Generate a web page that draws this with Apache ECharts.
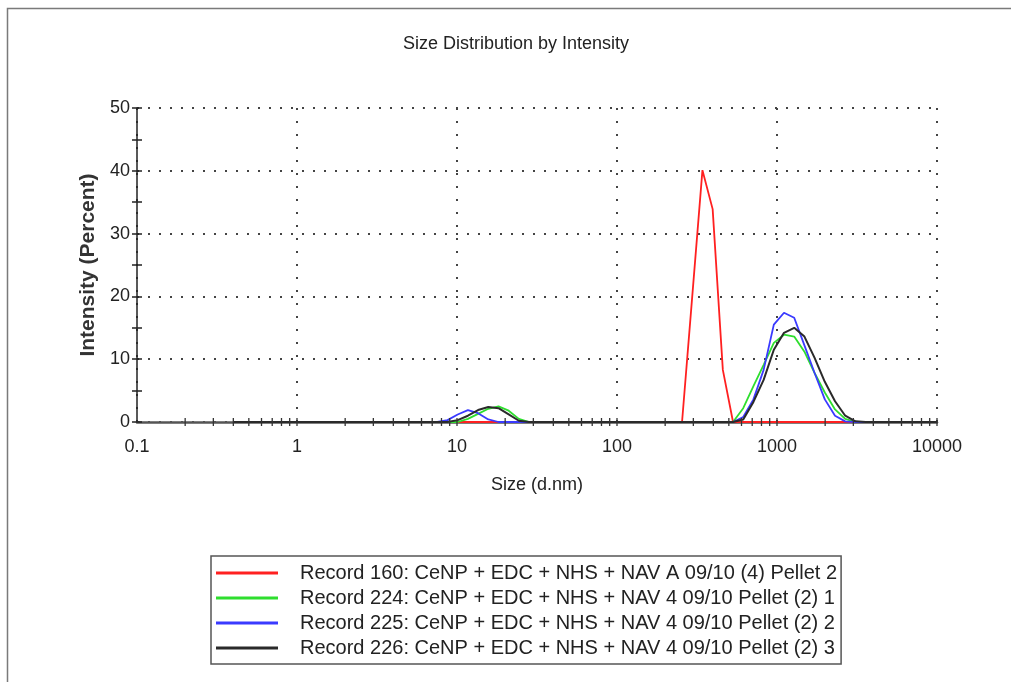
<!DOCTYPE html>
<html>
<head>
<meta charset="utf-8">
<script src="https://cdn.jsdelivr.net/npm/echarts@6/dist/echarts.min.js"></script>
<style>
html,body{margin:0;padding:0;background:#fff;}
#chart{width:1011px;height:682px;}
</style>
</head>
<body>
<div id="chart"></div>
<script>
// Size bins (d.nm)
var sizes = [0.4,0.4632,0.5365,0.6213,0.7195,0.8332,0.9649,1.117,1.294,1.499,
  1.736,2.010,2.328,2.696,3.122,3.615,4.187,4.849,5.615,6.503,
  7.531,8.721,10.10,11.70,13.54,15.69,18.17,21.04,24.36,28.21,
  32.67,37.84,43.82,50.75,58.77,68.06,78.82,91.28,105.7,122.4,
  141.8,164.2,190.1,220.2,255.0,295.3,342.0,396.1,458.7,531.2,
  615.1,712.4,825.0,955.4,1106,1281,1484,1718,1990,2305,
  2669,3091,3580,4145,4801,5560,6439,7456,8635,10000];

var rec160 = [0,0,0,0,0,0,0,0,0,0,
  0,0,0,0,0,0,0,0,0,0,
  0,0,0,0,0,0,0,0,0,0,
  0,0,0,0,0,0,0,0,0,0,
  0,0,0,0,0,20.0,40.1,33.9,8.3,0,
  0,0,0,0,0,0,0,0,0,0,
  0,0,0,0,0,0,0,0,0,0];

var rec224 = [0,0,0,0,0,0,0,0,0,0,
  0,0,0,0,0,0,0,0,0,0,
  0,0,0,0.5,1.3,2.1,2.5,1.8,0.5,0,
  0,0,0,0,0,0,0,0,0,0,
  0,0,0,0,0,0,0,0,0,0,
  2.2,5.7,9.1,12.6,13.9,13.6,11.2,7.8,4.7,2.0,
  0.5,0,0,0,0,0,0,0,0,0];

var rec225 = [0,0,0,0,0,0,0,0,0,0,
  0,0,0,0,0,0,0,0,0,0,
  0,0.3,1.2,1.9,1.4,0.4,0,0,0,0,
  0,0,0,0,0,0,0,0,0,0,
  0,0,0,0,0,0,0,0,0,0,
  0.8,3.6,8.3,15.5,17.4,16.6,12.2,7.8,3.6,1.0,
  0.1,0,0,0,0,0,0,0,0,0];

var rec226 = [0,0,0,0,0,0,0,0,0,0,
  0,0,0,0,0,0,0,0,0,0,
  0,0,0.3,1.0,1.9,2.4,2.2,1.2,0.2,0,
  0,0,0,0,0,0,0,0,0,0,
  0,0,0,0,0,0,0,0,0,0,
  0.4,3.2,6.7,11.5,14.2,15.0,13.6,10.2,6.4,3.3,
  1.0,0.1,0,0,0,0,0,0,0,0];

var seriesNames = [
  'Record 160: CeNP + EDC + NHS + NAV A 09/10 (4) Pellet 2',
  'Record 224: CeNP + EDC + NHS + NAV 4 09/10 Pellet (2) 1',
  'Record 225: CeNP + EDC + NHS + NAV 4 09/10 Pellet (2) 2',
  'Record 226: CeNP + EDC + NHS + NAV 4 09/10 Pellet (2) 3'
];
var seriesValues = [rec160, rec224, rec225, rec226];
var seriesColors = ['#ff2020', '#2ede2e', '#3a3aff', '#2a2a2a'];

var xTickLabels = ['0.1','1','10','100','1000','10000'];
var xTickValues = [0.2,0.3,0.4,0.5,0.6,0.7,0.8,0.9,1,
  2,3,4,5,6,7,8,9,10,
  20,30,40,50,60,70,80,90,100,
  200,300,400,500,600,700,800,900,1000,
  2000,3000,4000,5000,6000,7000,8000,9000,10000];

var FONT = '"Liberation Sans", Arial, sans-serif';

function pairs(vals){
  return sizes.map(function(s, i){ return [s, vals[i]]; });
}

var chart = echarts.init(document.getElementById('chart'), null, {renderer:'canvas'});

var series = seriesNames.map(function(n, k){
  return {
    name: n, type: 'line', data: pairs(seriesValues[k]),
    showSymbol: false, symbol: 'none', clip: false,
    lineStyle: {color: seriesColors[k], width: 1.8},
    itemStyle: {color: seriesColors[k]},
    z: 3 + k, animation: false
  };
});
series[3].lineStyle.width = 2.0;

series.push({
  type: 'custom', silent: true, animation: false, clip: false, z: 10,
  data: xTickValues.map(function(v){ return [v, 0]; }),
  renderItem: function(params, api){
    var p = api.coord([api.value(0), 0]);
    return {type:'line', shape:{x1:p[0], y1:p[1]-4, x2:p[0], y2:p[1]+4},
      style:{stroke:'#333', lineWidth:1.3}};
  }
});

var option = {
  backgroundColor: '#fff',
  animation: false,
  grid: {left: 137, right: 74, top: 108, bottom: 260, containLabel: false},
  graphic: [
    {type:'rect', shape:{x:7.5, y:8.5, width:1100, height:1000},
     style:{fill:'none', stroke:'#7a7a7a', lineWidth:1.5}, silent:true},
    {type:'text', x:516, y:44, silent:true,
     style:{text:'Size Distribution by Intensity', font:'18px ' + FONT,
       fill:'#222', textAlign:'center', textVerticalAlign:'middle'}}
  ],
  legend: {
    orient: 'vertical', left: 211, top: 556,
    padding: [6, 4, 5, 5],
    borderColor: '#555', borderWidth: 1.5,
    icon: 'rect', itemWidth: 62, itemHeight: 3, itemGap: 3,
    data: seriesNames,
    selectedMode: false,
    textStyle: {fontSize: 20, fontFamily: FONT, color: '#222', lineHeight: 22,
      padding: [0, 0, 0, 17]}
  },
  xAxis: {
    type: 'log', logBase: 10, min: 0.1, max: 10000,
    name: 'Size (d.nm)', nameLocation: 'middle', nameGap: 54,
    nameTextStyle: {fontSize: 18, fontFamily: FONT, color: '#222'},
    axisLine: {show: true, onZero: false, lineStyle: {color: '#555', width: 2.5}},
    axisTick: {show: false},
    minorTick: {show: false},
    axisLabel: {fontSize: 18, fontFamily: FONT, color: '#222', margin: 16,
      formatter: function(v){ return xTickLabels[Math.round(Math.log10(v)) + 1]; }},
    splitLine: {show: true, lineStyle: {color: '#444', width: 2, type: [2, 11]}}
  },
  yAxis: [{
    type: 'value', min: 0, max: 50, interval: 10, position: 'left',
    name: 'Intensity (Percent)', nameLocation: 'middle', nameGap: 33, nameRotate: 90,
    nameTextStyle: {fontSize: 21, fontFamily: FONT, fontWeight: 'bold', color: '#333'},
    axisLine: {show: true, lineStyle: {color: '#222', width: 1.5}},
    axisTick: {show: true, length: 5, lineStyle: {color: '#222', width: 1.5}},
    minorTick: {show: true, splitNumber: 2, length: 5, lineStyle: {color: '#222', width: 1.5}},
    axisLabel: {fontSize: 18, fontFamily: FONT, color: '#222', margin: 7},
    splitLine: {show: true, lineStyle: {color: '#444', width: 2, type: [2, 9]}}
  }, {
    type: 'value', min: 0, max: 50, interval: 10, position: 'left', offset: 0,
    axisLine: {show: false},
    axisTick: {show: true, inside: true, length: 5, lineStyle: {color: '#222', width: 1.5}},
    minorTick: {show: true, splitNumber: 2, length: 5, lineStyle: {color: '#222', width: 1.5}},
    axisLabel: {show: false},
    splitLine: {show: false}
  }],
  series: series
};
chart.setOption(option);
</script>
</body>
</html>
